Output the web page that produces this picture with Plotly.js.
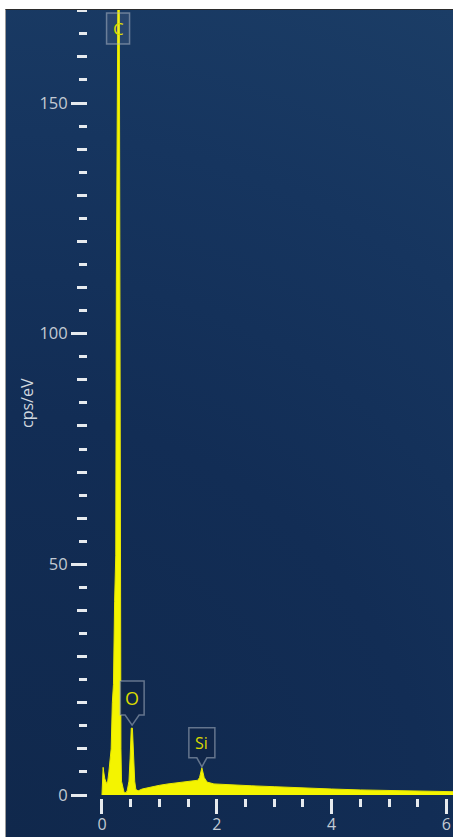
<!DOCTYPE html>
<html>
<head>
<meta charset="utf-8">
<script src="https://cdn.plot.ly/plotly-3.0.1.min.js"></script>
<style>
  html, body { margin: 0; padding: 0; background: #ffffff; width: 453px; height: 837px; overflow: hidden; }
  #chart {
    position: absolute; left: 5px; top: 9px; width: 448px; height: 828px;
    background: radial-gradient(circle at 0% 100%, #10284c 0%, #122d55 45%, #16355f 75%, #1b3d66 100%);
    border-top: 1px solid #2b2b2b; border-left: 1px solid #9a9a9a; box-sizing: border-box;
  }
</style>
</head>
<body>
<div id="chart"></div>
<script>
// Spectrum: energy (keV) vs counts (cps/eV)
const energyKeV = [0.00, 0.01, 0.02, 0.03, 0.05, 0.08, 0.10, 0.12, 0.14, 0.16, 0.18, 0.20, 0.22, 0.24,
  0.25, 0.26, 0.28, 0.30, 0.31, 0.32, 0.33, 0.34, 0.36, 0.38, 0.40, 0.42, 0.44, 0.47, 0.49, 0.51, 0.53,
  0.55, 0.57, 0.59, 0.63, 0.70, 0.80, 0.90, 1.00, 1.15, 1.30, 1.48, 1.60, 1.67, 1.70, 1.74, 1.78, 1.83,
  1.95, 2.20, 2.60, 3.00, 3.50, 4.00, 4.50, 5.00, 5.50, 6.00, 6.20];
const cpsPerEV = [0.0, 3.0, 6.0, 5.0, 3.5, 2.5, 3.0, 5.0, 7.0, 10.0, 20.0, 24.0, 42.0, 52.0,
  111.0, 180.0, 180.0, 180.0, 111.0, 40.0, 10.0, 3.0, 1.5, 0.8, 0.5, 0.5, 1.0, 3.0, 8.0, 14.5, 14.5,
  8.0, 3.0, 1.2, 0.9, 1.3, 1.6, 1.9, 2.1, 2.4, 2.6, 2.8, 3.0, 3.2, 3.8, 5.9, 3.8, 2.8,
  2.4, 2.2, 2.0, 1.8, 1.5, 1.3, 1.1, 1.0, 0.85, 0.7, 0.7];

// Element peak labels
const peakNames = ["C", "O", "Si"];
const peakEnergy = [0.28, 0.525, 1.74];
const peakTop = [170.17, 14.5, 5.9];

// Axis ticks
const xTickVals = [0, 2, 4, 6];
const xMinorVals = [0.5, 1, 1.5, 2.5, 3, 3.5, 4.5, 5, 5.5];
const yTickVals = [0, 50, 100, 150];
const yTenVals = [10, 20, 30, 40, 60, 70, 80, 90, 110, 120, 130, 140, 160, 170];
const yFiveVals = [5, 15, 25, 35, 45, 55, 65, 75, 85, 95, 105, 115, 125, 135, 145, 155, 165];

const xRange = [-1.672, 6.132];
const yRange = [-9.32, 170.17];
const tickCol = "#e6eaee";
const labCol = "#c3cad3";
const fam = "Open Sans, sans-serif";

const trace = {
  x: energyKeV, y: cpsPerEV, type: "scatter", mode: "lines",
  fill: "tozeroy", fillcolor: "#f4f400",
  line: { color: "#e8e800", width: 1 },
  hoverinfo: "skip", cliponaxis: true
};
const tickTrace = { x: [0], y: [0], xaxis: "x", yaxis: "y2", mode: "markers", marker: { opacity: 0 }, hoverinfo: "skip" };

const boxLine = { color: "rgba(170,180,195,0.55)", width: 1.5 };
const shapes = [];
const annotations = [];
// C box (peak runs off the top: plain rectangle)
shapes.push({ type: "path", xref: "x", yref: "y", xsizemode: "pixel", ysizemode: "pixel",
  xanchor: peakEnergy[0], yanchor: peakTop[0],
  path: "M -11.5 -3 L 11.5 -3 L 11.5 -34 L -11.5 -34 Z",
  line: boxLine, fillcolor: "rgba(255,255,255,0.07)", layer: "above" });
annotations.push({ x: peakEnergy[0], y: peakTop[0], xref: "x", yref: "y", text: peakNames[0], showarrow: false,
  yshift: -18, yanchor: "middle", font: { family: fam, size: 17, color: "#dada00" } });
// O box with chevron
shapes.push({ type: "path", xref: "x", yref: "y", xsizemode: "pixel", ysizemode: "pixel",
  xanchor: peakEnergy[1], yanchor: peakTop[1],
  path: "M 0 3 L 7 13 L 12 13 L 12 47 L -12 47 L -12 13 L -7 13 Z",
  line: boxLine, fillcolor: "rgba(16,38,72,0.85)", layer: "above" });
annotations.push({ x: peakEnergy[1], y: peakTop[1], xref: "x", yref: "y", text: peakNames[1], showarrow: false,
  yshift: 30, yanchor: "middle", font: { family: fam, size: 18, color: "#dada00" } });
// Si box with chevron
shapes.push({ type: "path", xref: "x", yref: "y", xsizemode: "pixel", ysizemode: "pixel",
  xanchor: peakEnergy[2], yanchor: peakTop[2],
  path: "M 0 1 L 5 10 L 13 10 L 13 40 L -13 40 L -13 10 L -5 10 Z",
  line: boxLine, fillcolor: "rgba(16,38,72,0.85)", layer: "above" });
annotations.push({ x: peakEnergy[2], y: peakTop[2], xref: "x", yref: "y", text: peakNames[2], showarrow: false,
  yshift: 25, yanchor: "middle", font: { family: fam, size: 16, color: "#dada00" } });
// y title
annotations.push({ xref: "paper", yref: "paper", x: 21 / 448, y: (828 - 393) / 828, text: "cps/eV", textangle: -90,
  showarrow: false, xanchor: "center", yanchor: "middle",
  font: { family: fam, size: 16, color: "#d0d7df" } });

const layout = {
  width: 448, height: 828,
  margin: { l: 0, r: 0, t: 0, b: 0, pad: 0 },
  paper_bgcolor: "rgba(0,0,0,0)", plot_bgcolor: "rgba(0,0,0,0)",
  showlegend: false,
  xaxis: {
    range: xRange, showgrid: false, zeroline: false, showline: false,
    anchor: "free", position: 40 / 828,
    tickmode: "array", tickvals: xTickVals, ticktext: xTickVals.map(String),
    ticks: "outside", ticklen: 15, tickwidth: 3, tickcolor: tickCol, ticklabelstandoff: -3,
    tickfont: { family: fam, size: 16, color: labCol },
    minor: { tickmode: "array", tickvals: xMinorVals, ticks: "outside", ticklen: 8, tickwidth: 3, tickcolor: tickCol, showgrid: false },
    fixedrange: true
  },
  yaxis: {
    range: yRange, showgrid: false, zeroline: false, showline: false,
    anchor: "free", position: 81 / 448,
    tickmode: "array", tickvals: yTickVals, ticktext: yTickVals.map(String),
    ticks: "outside", ticklen: 16, tickwidth: 3, tickcolor: tickCol,
    tickfont: { family: fam, size: 16.5, color: labCol },
    minor: { tickmode: "array", tickvals: yFiveVals, ticks: "outside", ticklen: 8, tickwidth: 3, tickcolor: tickCol, showgrid: false },
    fixedrange: true
  },
  yaxis2: {
    range: yRange, overlaying: "y", showgrid: false, zeroline: false, showline: false,
    anchor: "free", position: 81 / 448, side: "left",
    tickmode: "array", tickvals: yTenVals, showticklabels: false,
    ticks: "outside", ticklen: 10, tickwidth: 3, tickcolor: tickCol, fixedrange: true
  },
  shapes: shapes,
  annotations: annotations
};

Plotly.newPlot("chart", [trace, tickTrace], layout, { staticPlot: true, displayModeBar: false });
</script>
</body>
</html>
